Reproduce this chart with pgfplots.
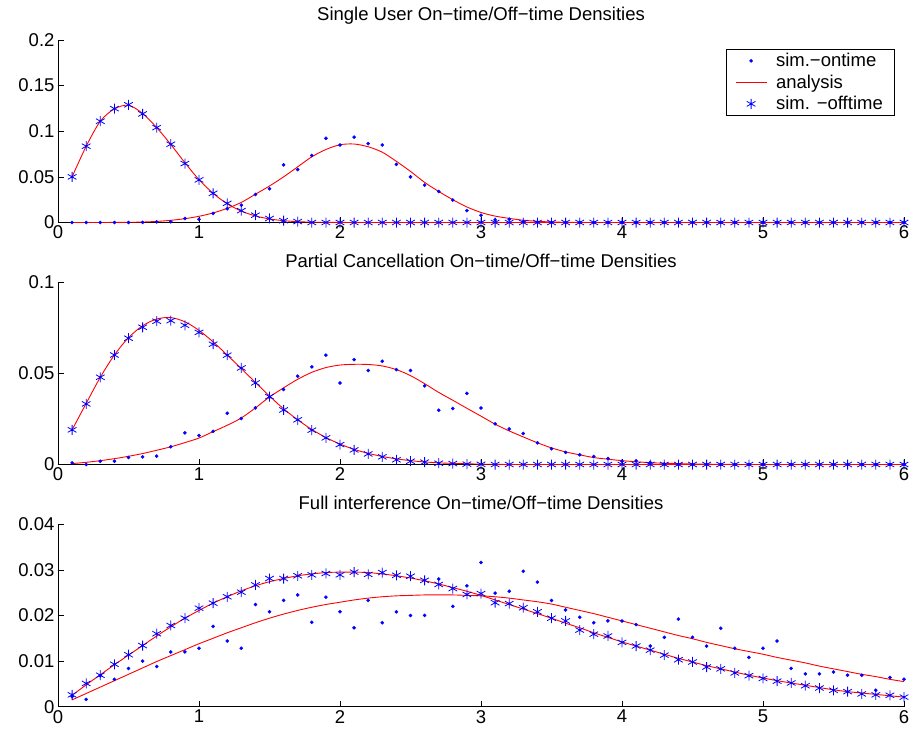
\documentclass[border=0pt]{standalone}
\usepackage{fontspec}
\setmainfont{Liberation Sans}
\usepackage{pgfplots}
\usepackage{pgfplotstable}
\pgfplotsset{compat=1.18}

\pgfplotstableread{
x on aon off aoff
0.1 0 0 0.050 0.050
0.2 0 0 0.0836 0.0836
0.3 0 0 0.111 0.111
0.4 0 0.0001 0.1248 0.1245
0.5 0 0.0002 0.129 0.1285
0.6 0.0001 0.0005 0.119 0.1195
0.7 0.0007 0.0012 0.104 0.104
0.8 0.0008 0.0024 0.0858 0.0855
0.9 0.0044 0.0042 0.0646 0.0655
1.0 0.0035 0.0068 0.0467 0.047
1.1 0.0099 0.0105 0.032 0.032
1.2 0.015 0.0155 0.021 0.0205
1.3 0.019 0.022 0.013 0.0125
1.4 0.0307 0.031 0.008 0.0072
1.5 0.0369 0.040 0.0044 0.0039
1.6 0.0631 0.050 0.002 0.002
1.7 0.058 0.061 0.001 0.0009
1.8 0.0734 0.072 0 0.0004
1.9 0.0923 0.080 0 0.0002
2.0 0.0849 0.0852 0 0.0001
2.1 0.0935 0.086 0 0
2.2 0.0864 0.083 0 0
2.3 0.085 0.077 0 0
2.4 0.0637 0.067 0 0
2.5 0.050 0.056 0 0
2.6 0.041 0.044 0 0
2.7 0.034 0.034 0 0
2.8 0.0246 0.025 0 0
2.9 0.013 0.017 0 0
3.0 0.008 0.011 0 0
3.1 0.0028 0.007 0 0
3.2 0.0036 0.0045 0 0
3.3 0.001 0.0025 0 0
3.4 0.0003 0.0013 0 0
3.5 0 0.0006 0 0
3.6 0 0.0002 0 0
3.7 0 0 0 0
3.8 0 0 0 0
3.9 0 0 0 0
4.0 0 0 0 0
4.1 0 0 0 0
4.2 0 0 0 0
4.3 0 0 0 0
4.4 0 0 0 0
4.5 0 0 0 0
4.6 0 0 0 0
4.7 0 0 0 0
4.8 0 0 0 0
4.9 0 0 0 0
5.0 0 0 0 0
5.1 0 0 0 0
5.2 0 0 0 0
5.3 0 0 0 0
5.4 0 0 0 0
5.5 0 0 0 0
5.6 0 0 0 0
5.7 0 0 0 0
5.8 0 0 0 0
5.9 0 0 0 0
6.0 0 0 0 0
}\tA

\pgfplotstableread{
x on aon off aoff
0.1 0.0009 0.0005 0.019 0.019
0.2 0 0.0012 0.0332 0.0335
0.3 0.0018 0.0021 0.0478 0.0478
0.4 0.0018 0.0032 0.060 0.0600
0.5 0.0038 0.0045 0.0692 0.0695
0.6 0.0042 0.006 0.0752 0.0760
0.7 0.0046 0.0078 0.0785 0.0797
0.8 0.0097 0.0097 0.0788 0.0805
0.9 0.0173 0.012 0.0763 0.0782
1.0 0.0159 0.0145 0.0724 0.0735
1.1 0.0182 0.018 0.0659 0.0672
1.2 0.0281 0.0215 0.0599 0.0600
1.3 0.0252 0.0255 0.0529 0.0525
1.4 0.031 0.031 0.0447 0.0450
1.5 0.0369 0.037 0.0372 0.0375
1.6 0.0411 0.042 0.0299 0.0305
1.7 0.0484 0.0467 0.0245 0.0245
1.8 0.0535 0.0505 0.0188 0.0192
1.9 0.0599 0.0531 0.0146 0.0148
2.0 0.0447 0.0545 0.0109 0.0112
2.1 0.0575 0.0549 0.008 0.0083
2.2 0.0515 0.0548 0.0058 0.0061
2.3 0.0566 0.054 0.0042 0.0044
2.4 0.052 0.052 0.0026 0.0031
2.5 0.0515 0.0487 0.0018 0.0021
2.6 0.0431 0.0443 0.0013 0.0014
2.7 0.0297 0.0395 0.0007 0.0009
2.8 0.0307 0.0352 0.0005 0.0006
2.9 0.039 0.0308 0.0002 0.0004
3.0 0.031 0.0265 0.0001 0.0002
3.1 0.0223 0.0221 0 0.0001
3.2 0.0195 0.0184 0 0
3.3 0.017 0.0151 0 0
3.4 0.0119 0.0119 0 0
3.5 0.0086 0.0091 0 0
3.6 0.0066 0.0069 0 0
3.7 0.0053 0.0053 0 0
3.8 0.0044 0.0038 0 0
3.9 0.0033 0.0029 0 0
4.0 0.0018 0.0021 0 0
4.1 0.002 0.0015 0 0
4.2 0.0011 0.001 0 0
4.3 0.0003 0.0007 0 0
4.4 0 0.0005 0 0
4.5 0 0.0003 0 0
4.6 0 0.0002 0 0
4.7 0 0.0001 0 0
4.8 0 0 0 0
4.9 0 0 0 0
5.0 0 0 0 0
5.1 0 0 0 0
5.2 0 0 0 0
5.3 0 0 0 0
5.4 0 0 0 0
5.5 0 0 0 0
5.6 0 0 0 0
5.7 0 0 0 0
5.8 0 0 0 0
5.9 0 0 0 0
6.0 0 0 0 0
}\tB

\pgfplotstableread{
x on aon off aoff
0.1 0.0022 0.0015 0.0026 0.0025
0.2 0.0016 0.0029 0.0051 0.0048
0.3 0.0068 0.0043 0.0069 0.0070
0.4 0.006 0.0057 0.0093 0.0092
0.5 0.0084 0.0071 0.0114 0.0113
0.6 0.01 0.0085 0.0134 0.0134
0.7 0.0088 0.0099 0.016 0.0155
0.8 0.012 0.0112 0.0178 0.0175
0.9 0.012 0.0125 0.0194 0.0194
1.0 0.0128 0.0138 0.0216 0.0211
1.1 0.0176 0.015 0.0227 0.0227
1.2 0.0144 0.0162 0.0241 0.0241
1.3 0.0128 0.0173 0.0251 0.0254
1.4 0.0224 0.0184 0.0267 0.0265
1.5 0.0208 0.0194 0.0281 0.0274
1.6 0.0233 0.0203 0.0281 0.0281
1.7 0.0245 0.0211 0.0287 0.0287
1.8 0.0185 0.0218 0.0289 0.0291
1.9 0.024 0.0224 0.0292 0.0294
2.0 0.0208 0.0229 0.0289 0.0295
2.1 0.0173 0.0234 0.0295 0.0295
2.2 0.0233 0.0238 0.029 0.0294
2.3 0.0184 0.0241 0.0294 0.0291
2.4 0.0208 0.0243 0.0288 0.0287
2.5 0.02 0.0244 0.0286 0.0282
2.6 0.02 0.0245 0.0277 0.0276
2.7 0.028 0.0245 0.0268 0.0269
2.8 0.022 0.0245 0.0259 0.0261
2.9 0.0265 0.0244 0.0246 0.0253
3.0 0.0316 0.0243 0.0248 0.0244
3.1 0.0249 0.0241 0.0228 0.0234
3.2 0.0253 0.0238 0.0226 0.0224
3.3 0.0297 0.0234 0.0217 0.0214
3.4 0.0273 0.023 0.0208 0.0204
3.5 0.0233 0.0225 0.0194 0.0194
3.6 0.0212 0.0218 0.0188 0.0183
3.7 0.0196 0.0211 0.0168 0.0173
3.8 0.0184 0.0204 0.0159 0.0162
3.9 0.0188 0.0196 0.0155 0.0152
4.0 0.0188 0.0188 0.0141 0.0142
4.1 0.018 0.018 0.0133 0.0133
4.2 0.0133 0.0172 0.0124 0.0124
4.3 0.0152 0.0164 0.0113 0.0115
4.4 0.0192 0.0156 0.0103 0.0106
4.5 0.0152 0.0149 0.0098 0.0098
4.6 0.0133 0.0141 0.0087 0.009
4.7 0.0172 0.0134 0.0083 0.0083
4.8 0.0128 0.0127 0.0074 0.0076
4.9 0.0108 0.0121 0.0068 0.0069
5.0 0.0128 0.0115 0.0062 0.0063
5.1 0.0144 0.0108 0.0056 0.0057
5.2 0.0084 0.0102 0.0052 0.0052
5.3 0.0072 0.0096 0.0046 0.0047
5.4 0.0072 0.0089 0.0041 0.0042
5.5 0.0076 0.0083 0.0036 0.0037
5.6 0.0069 0.0077 0.0033 0.0033
5.7 0.0069 0.0071 0.0028 0.003
5.8 0.0036 0.0066 0.0026 0.0027
5.9 0.0064 0.006 0.0025 0.0024
6.0 0.006 0.0055 0.0021 0.0021
}\tC

\pgfplotsset{
  mstyle/.style={
    scale only axis, width=846pt, height=182.5pt,
    anchor=south west,
    xmin=0, xmax=6, ymin=0,
    axis x line=bottom, axis y line=left,
    axis line style={-, black, line width=0.6pt},
    tick align=inside, major tick length=6pt,
    tick style={black, line width=0.6pt},
    xtick={0,1,2,3,4,5,6}, xticklabels={0,1,2,3,4,5,6},
    ticklabel style={font=\fontsize{18.5}{22}\selectfont},
    /pgf/number format/assume math mode=true,
    scaled y ticks=false,
    clip=false,
    title style={font=\fontsize{18.5}{22}\selectfont, at={(0.5,1)}, anchor=base},
  },
}

\begin{document}
\begin{tikzpicture}
\useasboundingbox (0,0) rectangle (909pt,732pt);

\begin{axis}[mstyle, at={(58pt,509.5pt)}, ymax=0.2,
  ytick={0,0.05,0.1,0.15,0.2}, yticklabels={0,0.05,0.1,0.15,0.2},
  title={Single User On−time/Off−time Densities}, title style={yshift=13pt},
  legend style={at={(1,1)}, anchor=north east, xshift=-10pt, yshift=-9pt,
    font=\fontsize{18.5}{22}\selectfont,
    row sep=2.6pt, column sep=7pt, inner xsep=9pt, inner ysep=2.2pt},
  legend cell align=left,
  legend image code/.code={\draw[mark repeat=2,mark phase=2,#1] plot coordinates {(0pt,0pt) (15.5pt,0pt) (31pt,0pt)};},
]
\addlegendimage{only marks, mark=*, mark size=1.6pt, color=blue, mark options={fill=blue, draw=blue}}
\addlegendentry{sim.−ontime}
\addlegendimage{color=red, draw=red, line width=0.9pt, no marks}
\addlegendentry{analysis}
\addlegendimage{only marks, mark=asterisk, mark size=5pt, color=blue, mark options={draw=blue, line width=0.8pt}}
\addlegendentry{sim. −offtime}
\addplot[forget plot, only marks, mark=*, mark size=1.6pt, blue] table[x=x,y=on] {\tA};
\addplot[forget plot, red, line width=0.9pt, smooth, no marks] table[x=x,y=aon] {\tA};
\addplot[forget plot, only marks, mark=asterisk, mark size=5pt, blue, mark options={line width=0.8pt}] table[x=x,y=off] {\tA};
\addplot[forget plot, red, line width=0.9pt, smooth, no marks] table[x=x,y=aoff] {\tA};
\end{axis}

\begin{axis}[mstyle, at={(58pt,267.5pt)}, ymax=0.1,
  ytick={0,0.05,0.1}, yticklabels={0,0.05,0.1},
  title={Partial Cancellation On−time/Off−time Densities}, title style={yshift=9pt},
]
\addplot[only marks, mark=*, mark size=1.6pt, blue] table[x=x,y=on] {\tB};
\addplot[red, line width=0.9pt, smooth, no marks] table[x=x,y=aon] {\tB};
\addplot[only marks, mark=asterisk, mark size=5pt, blue, mark options={line width=0.8pt}] table[x=x,y=off] {\tB};
\addplot[red, line width=0.9pt, smooth, no marks] table[x=x,y=aoff] {\tB};
\end{axis}

\begin{axis}[mstyle, at={(58pt,25.3pt)}, ymax=0.04,
  ytick={0,0.01,0.02,0.03,0.04}, yticklabels={0,0.01,0.02,0.03,0.04},
  title={Full interference On−time/Off−time Densities}, title style={yshift=9pt},
]
\addplot[only marks, mark=*, mark size=1.6pt, blue] table[x=x,y=on] {\tC};
\addplot[red, line width=0.9pt, smooth, no marks] table[x=x,y=aon] {\tC};
\addplot[only marks, mark=asterisk, mark size=5pt, blue, mark options={line width=0.8pt}] table[x=x,y=off] {\tC};
\addplot[red, line width=0.9pt, smooth, no marks] table[x=x,y=aoff] {\tC};
\end{axis}
\end{tikzpicture}
\end{document}
